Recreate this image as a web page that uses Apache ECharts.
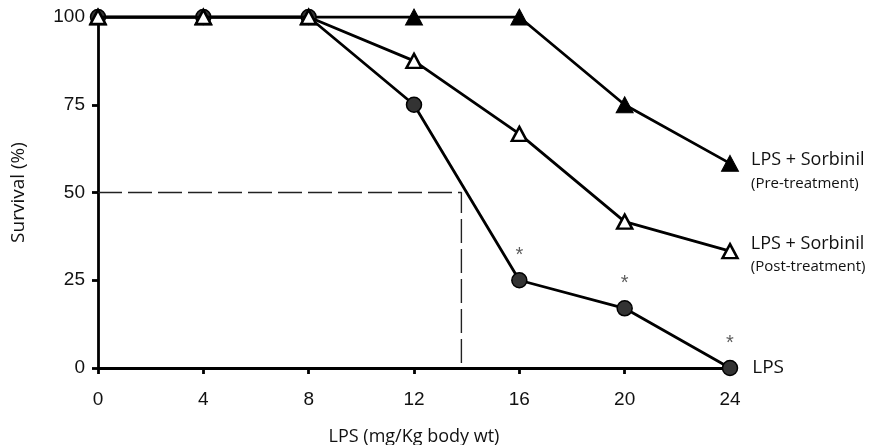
<!DOCTYPE html>
<html><head><meta charset="utf-8">
<script src="https://cdn.jsdelivr.net/npm/echarts@6/dist/echarts.min.js"></script>
<style>html,body{margin:0;padding:0;background:#fff}#c{width:871px;height:445px}</style>
</head><body><div id="c"></div>
<script>
const doses = [0, 4, 8, 12, 16, 20, 24];
const lps = [100, 100, 100, 75, 25, 17, 0];
const postTreat = [100, 100, 100, 87.5, 66.7, 41.7, 33.3];
const preTreat = [100, 100, 100, 100, 100, 75, 58.3];
const significant = [16, 20, 24];
const xTicks = [0, 4, 8, 12, 16, 20, 24];
const yTicks = [0, 25, 50, 75, 100];
const ld50 = 13.8;

const narrow = '"Liberation Sans Narrow", "Open Sans", sans-serif';
const tickFont = '"Liberation Sans", Arial, sans-serif';

function pts(vals, lastLabel) {
  return doses.map((d, i) => {
    const item = { value: [d, vals[i]] };
    if (i === doses.length - 1 && lastLabel) item.label = lastLabel;
    return item;
  });
}
const chart = echarts.init(document.getElementById('c'));
chart.setOption({
  animation: false,
  grid: { left: 98, right: 141, top: 17, bottom: 77, containLabel: false, outerBoundsMode: 'none' },
  xAxis: {
    type: 'value', min: 0, max: 24, interval: 4,
    name: 'LPS (mg/Kg body wt)', nameLocation: 'middle', nameGap: 60,
    nameTextStyle: { fontFamily: narrow, fontSize: 18, color: '#111' },
    axisLine: { show: true, onZero: false, lineStyle: { color: '#000', width: 2.8 } },
    axisTick: { show: true, length: 6, lineStyle: { color: '#000', width: 2.8 } },
    axisLabel: { fontFamily: tickFont, fontSize: 19, color: '#111', margin: 22,
      formatter: v => xTicks.includes(v) ? String(v) : '' },
    splitLine: { show: false }
  },
  yAxis: {
    type: 'value', min: 0, max: 100, interval: 25,
    name: 'Survival (%)', nameLocation: 'middle', nameGap: 70, nameRotate: 90,
    nameTextStyle: { fontFamily: '"Open Sans", sans-serif', fontSize: 19, color: '#111' },
    axisLine: { show: true, lineStyle: { color: '#000', width: 2.8 } },
    axisTick: { show: true, length: 6, lineStyle: { color: '#000', width: 2.8 } },
    axisLabel: { fontFamily: tickFont, fontSize: 19, color: '#111', margin: 13,
      formatter: v => yTicks.includes(v) ? String(v) : '' },
    splitLine: { show: false }
  },
  series: [
    {
      type: 'line', name: 'ld50', data: [[0, 50], [ld50, 50], [ld50, 0]],
      symbol: 'none', silent: true, z: 1,
      lineStyle: { color: '#222', width: 1.4, type: [24, 6] }
    },
    {
      type: 'line', name: 'LPS', z: 3,
      data: pts(lps, {
        show: true, position: 'right', distance: 14, formatter: 'LPS',
        fontFamily: narrow, fontSize: 19, color: '#111'
      }),
      symbol: 'circle', symbolSize: 15,
      lineStyle: { color: '#000', width: 2.8 },
      itemStyle: { color: '#333', borderColor: '#000', borderWidth: 1.5 }
    },
    {
      type: 'scatter', name: 'sig', z: 5, silent: true,
      data: significant.map(d => [d, lps[doses.indexOf(d)]]),
      symbol: 'circle', symbolSize: 1,
      itemStyle: { color: 'rgba(0,0,0,0)' },
      label: { show: true, position: 'top', distance: 14, formatter: '*',
        fontFamily: tickFont, fontSize: 20, color: '#333' }
    },
    {
      type: 'line', name: 'Post', z: 4,
      data: pts(postTreat, {
        show: true, position: 'right', distance: 12,
        formatter: '{a|LPS + Sorbinil}\n{b|(Post-treatment)}',
        offset: [0, 3],
        rich: {
          a: { fontFamily: narrow, fontSize: 18, color: '#111', lineHeight: 26 },
          b: { fontFamily: narrow, fontSize: 15, color: '#111', lineHeight: 20 }
        }
      }),
      symbol: 'triangle', symbolSize: [15, 14],
      lineStyle: { color: '#000', width: 2.8 },
      itemStyle: { color: '#fff', borderColor: '#000', borderWidth: 2.5 }
    },
    {
      type: 'line', name: 'Pre', z: 3,
      data: pts(preTreat, {
        show: true, position: 'right', distance: 12,
        formatter: '{a|LPS + Sorbinil}\n{b|(Pre-treatment)}',
        offset: [0, 7],
        rich: {
          a: { fontFamily: narrow, fontSize: 18, color: '#111', lineHeight: 26 },
          b: { fontFamily: narrow, fontSize: 15, color: '#111', lineHeight: 20 }
        }
      }),
      symbol: 'triangle', symbolSize: [17, 16],
      lineStyle: { color: '#000', width: 2.8 },
      itemStyle: { color: '#000', borderColor: '#000', borderWidth: 1 }
    }
  ]
});
</script></body></html>
